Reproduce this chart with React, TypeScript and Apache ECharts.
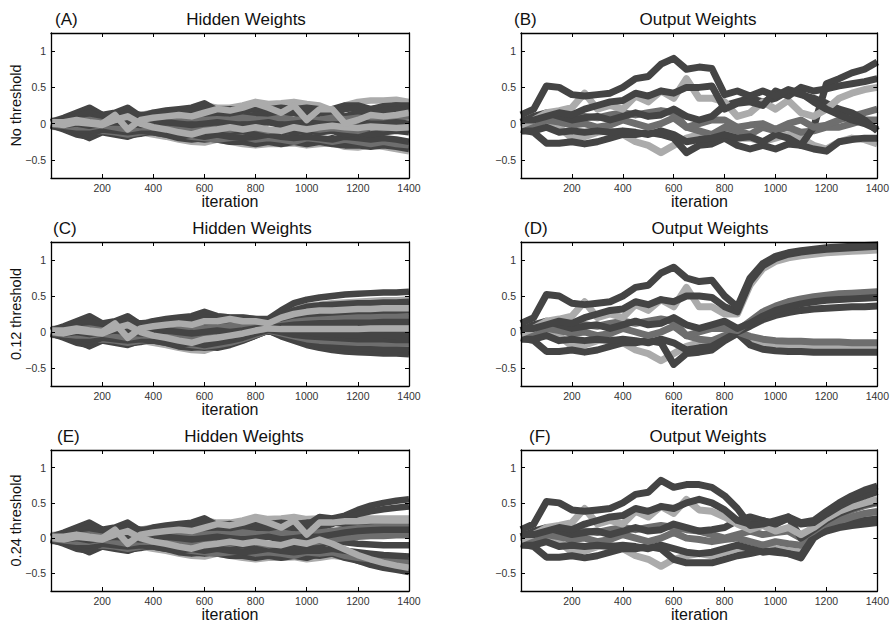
import React, { useEffect, useRef } from 'react';
import * as echarts from 'echarts';

// ---------- DATA ----------
const iterations = [0, 50, 100, 150, 200, 250, 300, 350, 400, 450, 500, 550, 600, 650, 700, 750, 800, 850, 900, 950, 1000, 1050, 1100, 1150, 1200, 1250, 1300, 1350, 1400];
const xTickLabels = [200, 400, 600, 800, 1000, 1200, 1400];
const yTickLabels = [-0.5, 0, 0.5, 1];

const panelLetters = ['(A)', '(B)', '(C)', '(D)', '(E)', '(F)'];
const panelTitles = ['Hidden Weights', 'Output Weights', 'Hidden Weights', 'Output Weights', 'Hidden Weights', 'Output Weights'];
const rowNames = ['No threshold', '0.12 threshold', '0.24 threshold'];
const xAxisName = 'iteration';

// Hidden weights: shared run, iterations 0..600
const hiddenEarly: number[][] = [
  [0.04, 0.06, 0.08, 0.12, 0.1, 0.05, 0.08, 0.12, 0.15, 0.16, 0.18, 0.2, 0.25],
  [-0.04, -0.06, -0.1, -0.16, -0.1, -0.12, -0.15, -0.12, -0.15, -0.18, -0.22, -0.25, -0.26],
  [0.02, 0.08, 0.15, 0.22, 0.12, 0.15, 0.22, 0.1, 0.15, 0.18, 0.2, 0.22, 0.28],
  [-0.03, -0.06, -0.12, -0.2, -0.12, -0.15, -0.18, -0.12, -0.12, -0.15, -0.2, -0.22, -0.2],
  [0.02, 0.05, 0.1, 0.15, 0.08, 0.1, 0.15, 0.12, 0.12, 0.14, 0.15, 0.18, 0.2],
  [-0.02, -0.08, -0.15, -0.18, -0.1, -0.12, -0.16, -0.14, -0.1, -0.14, -0.16, -0.2, -0.22],
  [-0.02, -0.04, -0.08, -0.12, -0.1, -0.12, -0.15, -0.12, -0.1, -0.12, -0.15, -0.18, -0.2],
  [-0.01, -0.05, -0.1, -0.15, -0.08, -0.1, -0.12, -0.1, -0.12, -0.15, -0.18, -0.15, -0.18],
  [0.03, 0.02, 0.05, 0.08, 0.05, 0.02, 0.05, 0.08, 0.1, 0.08, 0.1, 0.12, 0.1],
  [-0.02, -0.05, -0.08, -0.1, -0.05, -0.08, -0.1, -0.08, -0.05, -0.1, -0.08, -0.1, -0.12],
  [0.01, 0.02, -0.02, 0.02, 0.03, -0.02, 0.03, 0.0, 0.02, 0.0, 0.02, 0.03, 0.04],
  [0.01, 0.0, 0.03, 0.05, 0.02, 0.0, 0.02, 0.0, 0.05, 0.06, 0.05, 0.08, 0.05],
  [-0.01, -0.03, -0.05, -0.05, -0.02, -0.05, -0.08, -0.05, -0.05, -0.06, -0.05, -0.08, -0.05],
  [0.0, -0.02, 0.0, -0.03, 0.0, 0.02, 0.0, -0.02, 0.0, 0.02, 0.0, -0.02, 0.0],
  [0.0, -0.02, 0.02, 0.0, -0.02, 0.05, 0.1, 0.0, -0.05, -0.08, -0.12, -0.15, -0.1],
  [0.02, 0.02, 0.05, 0.02, 0.0, 0.12, -0.08, 0.05, 0.08, 0.1, 0.12, 0.1, 0.15],
];
// Hidden weights without threshold (also 0.24 threshold), iterations 650..1000
const hiddenMid: number[][] = [
  [0.22, 0.22, 0.25, 0.3, 0.27, 0.28, 0.3, 0.27],
  [-0.22, -0.25, -0.28, -0.3, -0.28, -0.28, -0.27, -0.3],
  [0.18, 0.2, 0.18, 0.2, 0.15, 0.2, 0.15, 0.18],
  [-0.22, -0.25, -0.25, -0.28, -0.25, -0.28, -0.25, -0.28],
  [0.16, 0.18, 0.2, 0.22, 0.2, 0.22, 0.2, 0.22],
  [-0.2, -0.22, -0.22, -0.25, -0.22, -0.24, -0.22, -0.24],
  [-0.22, -0.2, -0.18, -0.22, -0.2, -0.22, -0.25, -0.2],
  [-0.15, -0.18, -0.2, -0.18, -0.15, -0.18, -0.2, -0.18],
  [0.12, 0.15, 0.1, 0.12, 0.15, 0.12, 0.15, 0.1],
  [-0.1, -0.12, -0.1, -0.15, -0.12, -0.1, -0.12, -0.1],
  [0.05, 0.06, 0.04, 0.05, 0.08, 0.06, 0.05, 0.08],
  [0.06, 0.05, 0.08, 0.06, 0.05, 0.08, 0.05, 0.06],
  [-0.06, -0.08, -0.05, -0.06, -0.1, -0.08, -0.05, -0.06],
  [0.02, 0.0, -0.02, 0.0, 0.02, -0.02, 0.0, 0.02],
  [-0.08, -0.05, -0.08, -0.05, -0.08, -0.1, -0.05, -0.08],
  [0.2, 0.18, 0.22, 0.28, 0.22, 0.15, 0.25, 0.05],
];
// (A) iterations 1050..1400
const hiddenLateA: number[][] = [
  [0.25, 0.18, 0.25, 0.3, 0.32, 0.32, 0.33, 0.3],
  [-0.28, -0.27, -0.32, -0.33, -0.3, -0.32, -0.35, -0.38],
  [0.2, 0.2, 0.25, 0.25, 0.2, 0.22, 0.25, 0.25],
  [-0.25, -0.28, -0.3, -0.3, -0.32, -0.3, -0.32, -0.35],
  [0.2, 0.15, 0.2, 0.22, 0.2, 0.24, 0.25, 0.22],
  [-0.25, -0.2, -0.25, -0.22, -0.25, -0.22, -0.25, -0.28],
  [-0.22, -0.25, -0.22, -0.25, -0.28, -0.25, -0.28, -0.3],
  [-0.2, -0.22, -0.18, -0.2, -0.22, -0.2, -0.22, -0.25],
  [0.15, 0.12, 0.1, 0.15, 0.12, 0.18, 0.2, 0.18],
  [-0.12, -0.1, -0.15, -0.12, -0.15, -0.12, -0.1, -0.12],
  [0.06, 0.05, 0.08, 0.1, 0.08, 0.1, 0.12, 0.1],
  [0.05, 0.08, 0.06, 0.08, 0.06, 0.05, 0.08, 0.1],
  [-0.08, -0.06, -0.08, -0.1, -0.05, -0.06, -0.05, -0.05],
  [0.0, -0.02, 0.0, 0.02, 0.0, 0.0, 0.02, 0.0],
  [-0.05, -0.03, -0.05, -0.06, -0.04, -0.05, -0.06, -0.05],
  [0.2, 0.2, 0.0, 0.05, 0.12, 0.1, 0.12, 0.15],
];
// (C) iterations 650..1400
const hiddenLateC: number[][] = [
  [0.22, 0.2, 0.2, 0.18, 0.16, 0.25, 0.32, 0.36, 0.38, 0.4, 0.41, 0.42, 0.43, 0.44, 0.44, 0.45],
  [-0.2, -0.15, -0.1, -0.05, 0.02, -0.04, -0.08, -0.12, -0.14, -0.16, -0.17, -0.18, -0.18, -0.19, -0.19, -0.2],
  [0.22, 0.2, 0.2, 0.18, 0.18, 0.3, 0.4, 0.45, 0.48, 0.5, 0.52, 0.53, 0.54, 0.55, 0.55, 0.56],
  [-0.22, -0.18, -0.12, -0.05, 0.02, -0.06, -0.12, -0.18, -0.22, -0.25, -0.27, -0.28, -0.29, -0.3, -0.3, -0.31],
  [0.18, 0.16, 0.15, 0.14, 0.12, 0.22, 0.3, 0.35, 0.37, 0.38, 0.39, 0.4, 0.4, 0.41, 0.41, 0.42],
  [-0.2, -0.16, -0.11, -0.05, 0.02, -0.05, -0.1, -0.14, -0.17, -0.19, -0.21, -0.22, -0.23, -0.24, -0.24, -0.25],
  [-0.18, -0.15, -0.1, -0.04, 0.02, -0.02, -0.06, -0.1, -0.12, -0.13, -0.14, -0.15, -0.15, -0.16, -0.16, -0.16],
  [-0.15, -0.12, -0.08, -0.02, 0.03, 0.0, -0.04, -0.06, -0.07, -0.08, -0.09, -0.1, -0.1, -0.1, -0.11, -0.11],
  [0.12, 0.15, 0.12, 0.12, 0.1, 0.15, 0.2, 0.22, 0.24, 0.25, 0.26, 0.27, 0.27, 0.28, 0.28, 0.28],
  [-0.1, -0.08, -0.05, 0.0, 0.04, 0.03, 0.02, 0.02, 0.01, 0.01, 0.01, 0.0, 0.0, 0.0, 0.0, 0.0],
  [0.04, 0.05, 0.06, 0.08, 0.08, 0.06, 0.04, 0.0, -0.02, -0.03, -0.04, -0.05, -0.05, -0.05, -0.06, -0.06],
  [0.06, 0.08, 0.08, 0.08, 0.08, 0.1, 0.14, 0.16, 0.17, 0.18, 0.19, 0.2, 0.2, 0.21, 0.21, 0.22],
  [-0.06, -0.05, -0.02, 0.02, 0.05, 0.05, 0.06, 0.06, 0.07, 0.07, 0.07, 0.07, 0.07, 0.07, 0.07, 0.07],
  [0.02, 0.0, 0.02, 0.05, 0.06, 0.08, 0.1, 0.11, 0.12, 0.12, 0.13, 0.13, 0.13, 0.14, 0.14, 0.14],
  [-0.08, -0.05, -0.02, 0.02, 0.05, 0.04, 0.04, 0.04, 0.04, 0.04, 0.04, 0.04, 0.05, 0.05, 0.05, 0.05],
  [0.15, 0.18, 0.15, 0.15, 0.12, 0.2, 0.25, 0.28, 0.3, 0.3, 0.31, 0.32, 0.32, 0.33, 0.33, 0.33],
];
// (E) iterations 1050..1400
const hiddenLateE: number[][] = [
  [0.28, 0.27, 0.28, 0.28, 0.28, 0.28, 0.28, 0.28],
  [-0.28, -0.25, -0.27, -0.3, -0.3, -0.32, -0.33, -0.34],
  [0.3, 0.28, 0.32, 0.4, 0.46, 0.5, 0.53, 0.55],
  [-0.22, -0.18, -0.25, -0.32, -0.38, -0.42, -0.45, -0.48],
  [0.22, 0.22, 0.2, 0.2, 0.2, 0.2, 0.19, 0.19],
  [-0.25, -0.22, -0.28, -0.32, -0.35, -0.37, -0.39, -0.4],
  [-0.22, -0.2, -0.25, -0.28, -0.3, -0.32, -0.33, -0.34],
  [-0.18, -0.15, -0.18, -0.2, -0.22, -0.24, -0.25, -0.26],
  [0.15, 0.2, 0.28, 0.34, 0.38, 0.41, 0.43, 0.45],
  [-0.1, -0.05, -0.06, -0.08, -0.09, -0.1, -0.1, -0.1],
  [0.05, 0.06, 0.06, 0.07, 0.08, 0.08, 0.08, 0.08],
  [0.08, 0.1, 0.12, 0.14, 0.15, 0.16, 0.17, 0.18],
  [-0.05, -0.02, 0.0, 0.02, 0.03, 0.03, 0.04, 0.04],
  [0.02, 0.05, 0.08, 0.1, 0.11, 0.12, 0.12, 0.12],
  [-0.02, -0.08, -0.16, -0.24, -0.3, -0.35, -0.39, -0.42],
  [0.22, 0.22, 0.24, 0.24, 0.25, 0.25, 0.25, 0.25],
];

// Output weights: shared run, iterations 0..550
const outputEarly: number[][] = [
  [-0.05, -0.02, 0.0, -0.05, -0.2, -0.18, -0.12, -0.1, -0.15, -0.25, -0.3, -0.4],
  [-0.08, -0.12, -0.27, -0.27, -0.25, -0.28, -0.25, -0.2, -0.15, -0.15, -0.12, -0.15],
  [-0.05, -0.02, 0.05, 0.02, -0.02, 0.0, -0.05, -0.02, 0.05, 0.0, -0.05, 0.0],
  [-0.1, -0.1, -0.05, -0.12, -0.1, -0.12, -0.1, -0.12, -0.1, -0.12, -0.15, -0.1],
  [0.0, 0.05, 0.12, 0.15, 0.12, 0.1, 0.08, 0.12, 0.15, 0.12, 0.15, 0.18],
  [0.02, 0.1, 0.15, 0.1, 0.05, 0.08, 0.1, 0.05, 0.1, 0.15, 0.1, 0.12],
  [-0.02, 0.05, 0.15, 0.18, 0.22, 0.42, 0.2, 0.25, 0.2, 0.38, 0.3, 0.45],
  [0.05, 0.05, 0.1, 0.15, 0.12, 0.2, 0.25, 0.3, 0.32, 0.42, 0.38, 0.45],
  [0.12, 0.2, 0.52, 0.5, 0.4, 0.38, 0.4, 0.42, 0.5, 0.62, 0.65, 0.82],
];
// (B) iterations 600..1400
const outputLateB: number[][] = [
  [-0.3, -0.2, -0.15, -0.2, -0.1, -0.2, -0.2, -0.25, -0.2, -0.15, -0.2, -0.3, -0.35, -0.25, -0.2, -0.22, -0.28],
  [-0.2, -0.4, -0.3, -0.28, -0.2, -0.3, -0.35, -0.3, -0.35, -0.28, -0.3, -0.35, -0.38, -0.25, -0.22, -0.2, -0.2],
  [0.08, -0.05, -0.1, -0.15, -0.05, -0.1, -0.15, -0.05, -0.1, -0.05, -0.12, -0.1, -0.05, -0.05, 0.0, 0.05, 0.05],
  [-0.15, -0.25, -0.22, -0.2, -0.15, -0.2, -0.18, -0.25, -0.15, -0.2, -0.3, -0.05, 0.55, 0.62, 0.7, 0.75, 0.85],
  [0.15, -0.05, 0.0, 0.05, 0.05, -0.05, -0.02, 0.0, -0.08, 0.0, 0.05, -0.05, -0.02, 0.05, 0.1, 0.15, 0.2],
  [0.2, 0.1, 0.05, 0.1, 0.25, 0.3, 0.35, 0.3, 0.35, 0.45, 0.4, 0.35, 0.28, 0.2, 0.15, 0.05, -0.1],
  [0.35, 0.62, 0.35, 0.35, 0.3, 0.1, 0.15, 0.3, 0.2, 0.32, 0.15, 0.1, 0.2, 0.35, 0.42, 0.47, 0.5],
  [0.42, 0.5, 0.5, 0.52, 0.2, 0.28, 0.3, 0.25, 0.45, 0.38, 0.5, 0.45, 0.48, 0.52, 0.55, 0.58, 0.62],
  [0.9, 0.75, 0.78, 0.76, 0.4, 0.45, 0.38, 0.45, 0.38, 0.47, 0.42, 0.3, 0.2, 0.12, 0.05, 0.0, -0.08],
];
// (D) iterations 600..1400
const outputLateD: number[][] = [
  [-0.3, -0.2, -0.15, -0.18, -0.1, -0.02, -0.1, -0.15, -0.17, -0.18, -0.19, -0.2, -0.2, -0.2, -0.21, -0.21, -0.21],
  [-0.45, -0.3, -0.28, -0.25, -0.12, -0.02, -0.18, -0.24, -0.26, -0.27, -0.27, -0.28, -0.28, -0.28, -0.28, -0.28, -0.28],
  [0.08, -0.05, -0.1, -0.12, -0.05, 0.0, -0.06, -0.1, -0.12, -0.13, -0.13, -0.14, -0.14, -0.14, -0.15, -0.15, -0.15],
  [-0.15, -0.25, -0.22, -0.2, -0.1, 0.0, 0.08, 0.17, 0.23, 0.27, 0.3, 0.32, 0.33, 0.34, 0.35, 0.35, 0.36],
  [0.15, -0.05, 0.0, 0.05, 0.05, 0.02, 0.15, 0.28, 0.36, 0.42, 0.46, 0.49, 0.51, 0.53, 0.54, 0.55, 0.56],
  [0.2, 0.1, 0.05, 0.1, 0.15, 0.05, 0.12, 0.22, 0.3, 0.35, 0.39, 0.42, 0.44, 0.45, 0.46, 0.47, 0.48],
  [0.35, 0.62, 0.35, 0.35, 0.25, 0.25, 0.65, 0.88, 0.98, 1.03, 1.06, 1.08, 1.1, 1.11, 1.12, 1.13, 1.14],
  [0.42, 0.5, 0.5, 0.48, 0.35, 0.28, 0.7, 0.92, 1.02, 1.08, 1.11, 1.13, 1.15, 1.16, 1.17, 1.18, 1.19],
  [0.9, 0.75, 0.7, 0.72, 0.5, 0.35, 0.75, 0.95, 1.05, 1.1, 1.13, 1.15, 1.17, 1.18, 1.19, 1.2, 1.21],
];
// (F) iterations 600..1400
const outputLateF: number[][] = [
  [-0.3, -0.25, -0.22, -0.25, -0.2, -0.15, -0.2, -0.1, -0.15, -0.18, -0.2, 0.05, 0.15, 0.22, 0.28, 0.32, 0.35],
  [-0.3, -0.35, -0.35, -0.35, -0.3, -0.25, -0.22, -0.18, -0.2, -0.22, -0.28, 0.0, 0.12, 0.18, 0.22, 0.25, 0.27],
  [0.08, 0.0, -0.02, -0.05, -0.02, 0.0, -0.05, -0.1, -0.05, -0.08, -0.1, 0.05, 0.15, 0.24, 0.3, 0.35, 0.38],
  [-0.15, -0.2, -0.22, -0.2, -0.15, -0.1, -0.15, -0.2, -0.18, -0.22, -0.25, 0.02, 0.1, 0.15, 0.18, 0.2, 0.22],
  [0.15, 0.12, 0.1, 0.05, 0.0, 0.05, 0.1, 0.05, 0.08, 0.1, 0.0, 0.1, 0.22, 0.32, 0.4, 0.46, 0.5],
  [0.2, 0.15, 0.1, 0.12, 0.15, 0.25, 0.3, 0.25, 0.2, 0.3, 0.0, 0.12, 0.25, 0.35, 0.42, 0.48, 0.52],
  [0.35, 0.55, 0.4, 0.38, 0.3, 0.2, 0.12, 0.18, 0.1, 0.15, 0.05, 0.15, 0.28, 0.38, 0.45, 0.5, 0.55],
  [0.42, 0.5, 0.55, 0.5, 0.4, 0.25, 0.2, 0.25, 0.2, 0.28, 0.2, 0.22, 0.34, 0.45, 0.54, 0.6, 0.66],
  [0.72, 0.76, 0.76, 0.72, 0.6, 0.42, 0.18, 0.2, 0.25, 0.3, 0.22, 0.25, 0.38, 0.5, 0.6, 0.68, 0.74],
];

// ---------- STYLE / LAYOUT ----------
const DARK = '#444444';
const MED = '#6e6e6e';
const LIGHT = '#ababab';
const HIDDEN_COLORS = [LIGHT, LIGHT, DARK, DARK, DARK, DARK, MED, DARK, DARK, DARK, DARK, MED, MED, DARK, LIGHT, LIGHT];
const OUTPUT_COLORS = [LIGHT, DARK, MED, DARK, MED, DARK, LIGHT, DARK, DARK];
const FONT = '"Liberation Sans", Arial, Helvetica, sans-serif';

const PANELS = [
  { left: 51, top: 33, width: 358, height: 145, titleX: 246, letterX: 55, nameGap: 23 },
  { left: 521, top: 33, width: 357, height: 145, titleX: 698, letterX: 514, nameGap: 23 },
  { left: 51, top: 242, width: 358, height: 144, titleX: 252, letterX: 53, nameGap: 23 },
  { left: 521, top: 242, width: 357, height: 144, titleX: 710, letterX: 524, nameGap: 23 },
  { left: 51, top: 450, width: 358, height: 141, titleX: 244, letterX: 57, nameGap: 23 },
  { left: 521, top: 450, width: 357, height: 141, titleX: 708, letterX: 529, nameGap: 23 },
];

function buildRows(): number[][][] {
  const a = hiddenEarly.map((r, i) => r.concat(hiddenMid[i], hiddenLateA[i]));
  const c = hiddenEarly.map((r, i) => r.concat(hiddenLateC[i]));
  const e = hiddenEarly.map((r, i) => r.concat(hiddenMid[i], hiddenLateE[i]));
  const b = outputEarly.map((r, i) => r.concat(outputLateB[i]));
  const d = outputEarly.map((r, i) => r.concat(outputLateD[i]));
  const f = outputEarly.map((r, i) => r.concat(outputLateF[i]));
  return [a, b, c, d, e, f];
}

function buildOption() {
  const rowsByPanel = buildRows();
  const grids: any[] = [];
  const xAxes: any[] = [];
  const yAxes: any[] = [];
  const series: any[] = [];
  const graphics: any[] = [];
  const axisLine = { show: true, onZero: false, lineStyle: { color: '#000', width: 1.3 } };
  const tick = { show: true, inside: true, length: 4, lineStyle: { color: '#000', width: 1 } };

  PANELS.forEach((p, i) => {
    grids.push({ left: p.left, top: p.top, width: p.width, height: p.height, containLabel: false });
    const xBase = { gridIndex: i, type: 'value', min: 0, max: 1400, interval: 200, splitLine: { show: false }, axisLine, axisTick: tick, z: 5 };
    xAxes.push({
      ...xBase, position: 'bottom',
      axisLabel: { show: true, margin: 4, fontSize: 10.5, color: '#333', fontFamily: FONT, formatter: (v: number) => (xTickLabels.indexOf(v) >= 0 ? String(v) : '') },
    });
    xAxes.push({ ...xBase, position: 'top', axisLabel: { show: false } });
    const yBase = { gridIndex: i, type: 'value', min: -0.75, max: 1.25, interval: 0.25, splitLine: { show: false }, axisLine, axisTick: { ...tick, customValues: yTickLabels }, z: 5 };
    yAxes.push({
      ...yBase, position: 'left',
      axisLabel: { show: true, margin: 5, fontSize: 10.5, color: '#333', fontFamily: FONT, customValues: yTickLabels, formatter: (v: number) => (v < 0 ? '\u2212' + Math.abs(v) : String(v)) },
    });
    yAxes.push({ ...yBase, position: 'right', axisLabel: { show: false } });

    const isHidden = i % 2 === 0;
    const colors = isHidden ? HIDDEN_COLORS : OUTPUT_COLORS;
    rowsByPanel[i].forEach((row, k) => {
      series.push({
        type: 'line',
        xAxisIndex: i * 2,
        yAxisIndex: i * 2,
        data: row.map((v, j) => [iterations[j], v]),
        showSymbol: false,
        symbol: 'none',
        silent: true,
        clip: true,
        lineStyle: { width: isHidden ? 6.5 : 7, color: colors[k], cap: 'butt', join: 'round' },
      });
    });

    const titleY = p.top - 14;
    graphics.push({ type: 'text', x: p.titleX, y: titleY, style: { text: panelTitles[i], font: `17px ${FONT}`, fill: '#111', textAlign: 'center', textVerticalAlign: 'middle' } });
    graphics.push({ type: 'text', x: p.letterX, y: titleY, style: { text: panelLetters[i], font: `17px ${FONT}`, fill: '#111', textAlign: 'left', textVerticalAlign: 'middle' } });
    graphics.push({ type: 'text', x: p.left + p.width / 2, y: p.top + p.height + p.nameGap, style: { text: xAxisName, font: `16px ${FONT}`, fill: '#111', textAlign: 'center', textVerticalAlign: 'middle' } });
    if (isHidden) {
      graphics.push({ type: 'text', x: 16, y: p.top + p.height / 2, rotation: Math.PI / 2, style: { text: rowNames[i / 2], font: `14.5px ${FONT}`, fill: '#111', textAlign: 'center', textVerticalAlign: 'middle' } });
    }
  });

  return {
    animation: false,
    backgroundColor: '#fff',
    grid: grids,
    xAxis: xAxes,
    yAxis: yAxes,
    series,
    graphic: graphics,
  };
}

export default function App() {
  const ref = useRef<HTMLDivElement>(null);
  useEffect(() => {
    if (!ref.current) return;
    const chart = echarts.init(ref.current, undefined, { renderer: 'svg' });
    chart.setOption(buildOption() as any);
    return () => chart.dispose();
  }, []);
  return <div ref={ref} style={{ position: 'absolute', left: 0, top: 0, width: 892, height: 625, background: '#fff' }} />;
}
